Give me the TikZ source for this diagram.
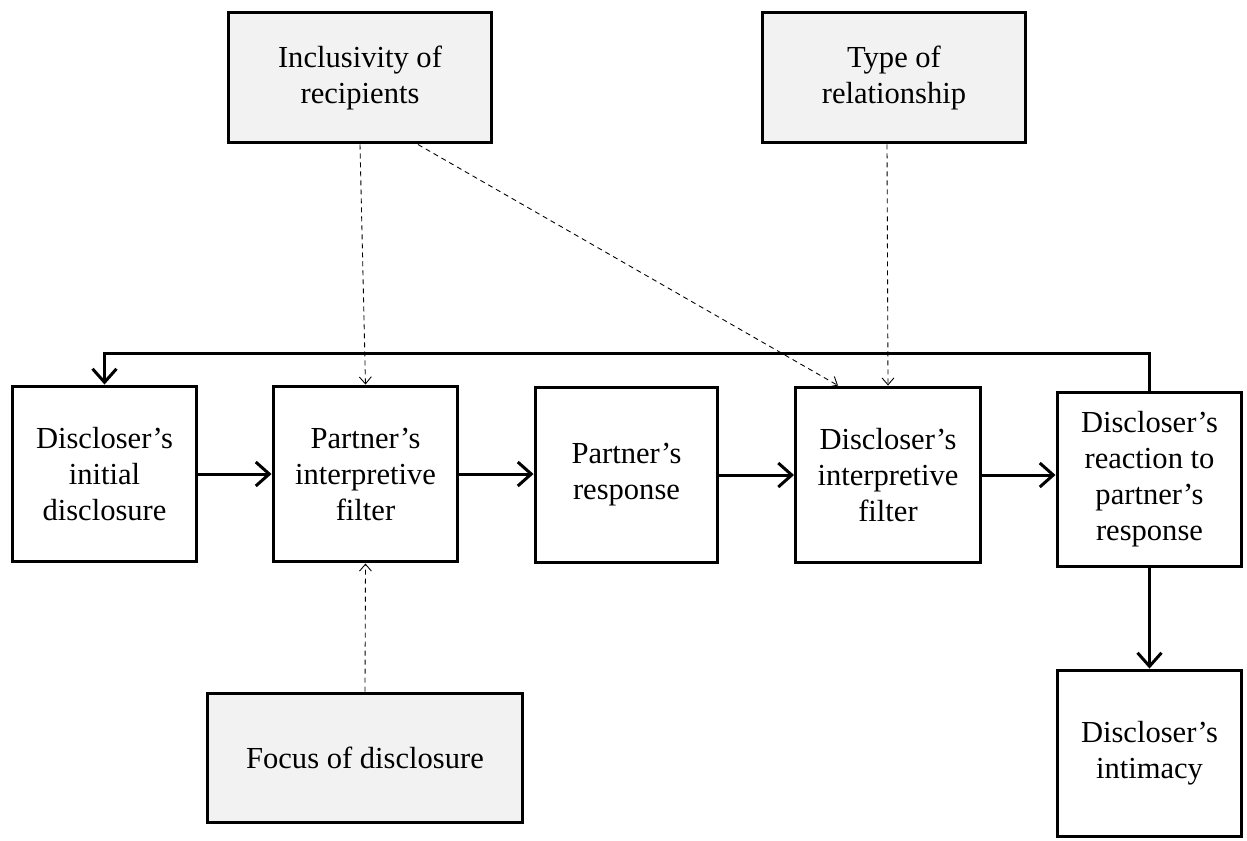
\documentclass[tikz,border=0pt]{standalone}
\usepackage{fontspec}
\setmainfont{Liberation Serif}
\usetikzlibrary{arrows.meta,positioning}
\definecolor{factorbg}{HTML}{F2F2F2}

\begin{document}
\begin{tikzpicture}[x=0.02cm,y=-0.02cm,
  box/.style={draw,line width=0.06cm,minimum width=3.7cm,minimum height=3.52cm,
              align=center,inner sep=2pt,font=\fontsize{17.4}{20.5}\selectfont},
  factor/.style={box,fill=factorbg,minimum width=5.28cm,minimum height=2.62cm},
  flow/.style={line width=0.06cm,-{Straight Barb[length=2.7mm,width=4.8mm]}},
  infl/.style={line width=0.5pt,dash pattern=on 1mm off 0.8mm,
               -{Straight Barb[length=1.4mm,width=2.4mm]}}]
\useasboundingbox (0,0) rectangle (1247,840);
% main sequence
\node[box] (A) at (104.5,474) {Discloser's\\initial\\disclosure};
\node[box] (B) at (365.5,474) {Partner's\\interpretive\\filter};
\node[box,minimum width=3.66cm] (C) at (626.5,475) {Partner's\\response};
\node[box] (D) at (888,475) {Discloser's\\interpretive\\filter};
\node[box,minimum height=3.5cm] (E) at (1149.5,479.5) {Discloser's\\reaction to\\partner's\\response};
\node[box,minimum height=3.32cm] (F) at (1149.5,753) {Discloser's\\intimacy};
% moderators
\node[factor] (I) at (360,77.5) {Inclusivity of\\recipients};
\node[factor] (T) at (894,77.5) {Type of\\relationship};
\node[factor,minimum width=6.32cm,minimum height=2.58cm] (Fo) at (365,757.5) {Focus of disclosure};
\draw[flow] (A) -- (B);
\draw[flow] (B.east) -- (B.east -| C.west);
\draw[flow] (C.east) -- (C.east -| D.west);
\draw[flow] (D.east) -- (D.east -| E.west);
\draw[flow] (E) -- (F);
% feedback loop
\draw[flow] (E.north) -- ++(0,-37) -| (A.north);
% moderating influences
\draw[infl] (I.south) -- (B.north);
\draw[infl] ([xshift=1.16cm]I.south) -- ([xshift=-1cm]D.north);
\draw[infl] ([xshift=-0.14cm]T.south) -- (D.north);
\draw[infl] (Fo.north) -- (B.south);
\end{tikzpicture}
\end{document}
